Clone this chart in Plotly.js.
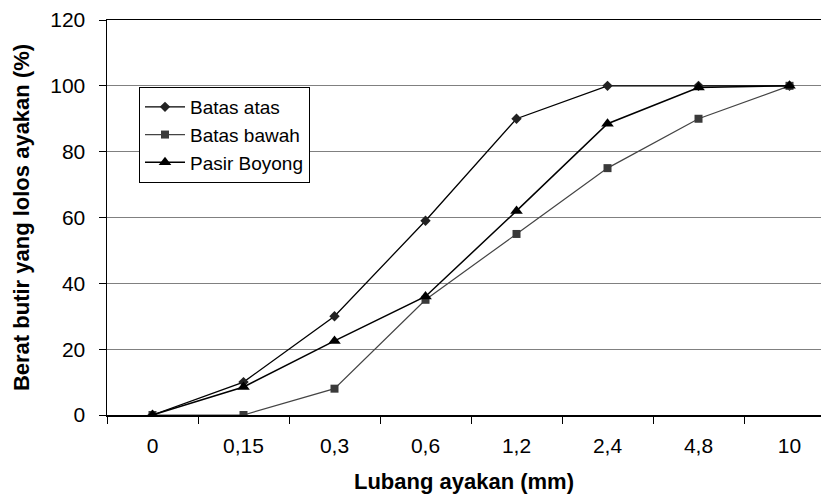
<!DOCTYPE html>
<html>
<head>
<meta charset="utf-8">
<script src="https://cdn.plot.ly/plotly-3.0.1.min.js"></script>
<style>html,body{margin:0;padding:0;background:#fff;}#chart{width:821px;height:498px;}</style>
</head>
<body>
<div id="chart"></div>
<script>
const categories = ["0", "0,15", "0,3", "0,6", "1,2", "2,4", "4,8", "10"];
const batasAtas = [0, 10, 30, 59, 90, 100, 100, 100];
const batasBawah = [0, 0, 8, 35, 55, 75, 90, 100];
const pasirBoyong = [0, 8.5, 22.5, 36, 62, 88.5, 99.5, 100];
const seriesNames = ["Batas atas", "Batas bawah", "Pasir Boyong"];

const font = "Liberation Sans, Arial, sans-serif";

const traces = [
  {x: categories, y: batasAtas, name: seriesNames[0], type: "scatter", mode: "lines+markers",
   line: {color: "#000000", width: 1.3}, marker: {symbol: "diamond", size: 8, color: "#222222"}},
  {x: categories, y: batasBawah, name: seriesNames[1], type: "scatter", mode: "lines+markers",
   line: {color: "#444444", width: 1.2}, marker: {symbol: "square", size: 8, color: "#3a3a3a"}},
  {x: categories, y: pasirBoyong, name: seriesNames[2], type: "scatter", mode: "lines+markers",
   line: {color: "#000000", width: 1.5}, marker: {symbol: "triangle-up", size: 11, color: "#000000"}}
];

const pw = 821 - 107, ph = 498 - 20 - 83;

const layout = {
  width: 821, height: 498,
  margin: {l: 107, r: 0, t: 20, b: 83, pad: 0},
  paper_bgcolor: "#ffffff", plot_bgcolor: "#ffffff",
  font: {family: font, size: 16, color: "#000"},
  showlegend: true,
  legend: {
    x: (139 - 107) / pw, y: 1 - (87 - 20) / ph, xanchor: "left", yanchor: "top",
    xref: "paper", yref: "paper",
    bgcolor: "#ffffff", bordercolor: "#000000", borderwidth: 1,
    font: {family: font, size: 19, color: "#000"},
    itemwidth: 40
  },
  xaxis: {
    type: "category", range: [-0.5, 7.346],
    tickson: "boundaries", ticks: "outside", ticklen: 7, tickcolor: "#000", tickwidth: 1,
    showline: true, linecolor: "#000", linewidth: 1.5, mirror: true,
    showgrid: false, zeroline: false, ticklabelstandoff: 11,
    tickfont: {family: font, size: 21, color: "#000"},
    title: {text: "<b>Lubang ayakan (mm)</b>", font: {family: font, size: 22, color: "#000"}, standoff: 18}
  },
  yaxis: {
    range: [0, 120], dtick: 20, tick0: 0,
    ticks: "outside", ticklen: 7, tickcolor: "#000", tickwidth: 1,
    showline: true, linecolor: "#000", linewidth: 1.5,
    showgrid: true, gridcolor: "#808080", gridwidth: 1, zeroline: false, ticklabelstandoff: 9,
    tickfont: {family: font, size: 21, color: "#000"},
    title: {text: "<b>Berat butir yang lolos ayakan (%)</b>", font: {family: font, size: 22, color: "#000"}, standoff: 14}
  }
};

Plotly.newPlot("chart", traces, layout, {displayModeBar: false, staticPlot: true});
</script>
</body>
</html>
